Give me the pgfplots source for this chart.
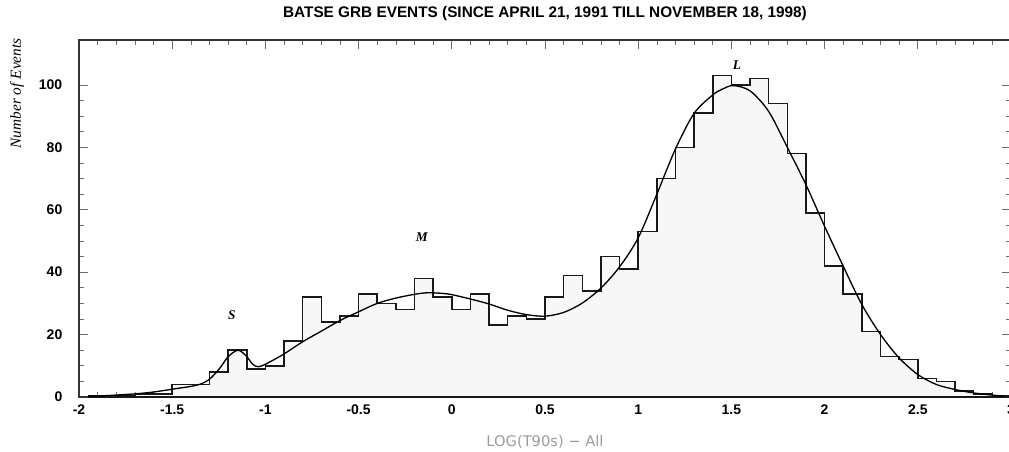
\documentclass[border=0pt]{standalone}
\usepackage{pgfplots}
\pgfplotsset{compat=1.18}
\usepackage{fontspec}
\setmainfont{Liberation Sans}
\newfontfamily\timesfont{Liberation Serif}
\newfontfamily\dejavu{DejaVu Sans}
\definecolor{histfill}{RGB}{247,247,247}
\definecolor{tickgray}{RGB}{110,110,110}
\definecolor{labelgray}{RGB}{155,155,155}
\begin{document}
\begin{tikzpicture}
\begin{axis}[
  name=ax,
  scale only axis,
  width=699pt, height=267.75pt,
  xmin=-2, xmax=3, ymin=0, ymax=114.4,
  xtick={-2,-1.5,-1,-0.5,0,0.5,1,1.5,2,2.5,3},
  xticklabels={-2,-1.5,-1,-0.5,0,0.5,1,1.5,2,2.5,3},
  minor x tick num=4,
  ytick={0,20,40,60,80,100},
  yticklabels={0,20,40,60,80,100},
  minor y tick num=3,
  tick align=inside,
  major tick length=6.75pt, minor tick length=3.4pt,
  every tick/.style={tickgray, line width=0.5pt},
  axis line style={line width=1.1pt, black!80},
  tick label style={font=\fontsize{10.5}{12}\selectfont\bfseries},
  xticklabel style={yshift=-2pt},
  yticklabel style={xshift=-9pt},
  clip=false,
]
\addplot[const plot, fill=histfill, draw=black!90, line width=1.15pt] coordinates {
(-1.95,0.3) (-1.7,1) (-1.5,4) (-1.3,8) (-1.2,15) (-1.1,9) (-1.0,10) (-0.9,18)
(-0.8,32) (-0.7,24) (-0.6,26) (-0.5,33) (-0.4,30) (-0.3,28) (-0.2,38) (-0.1,32)
(0.0,28) (0.1,33) (0.2,23) (0.3,26) (0.4,25) (0.5,32) (0.6,39) (0.7,34)
(0.8,45) (0.9,41) (1.0,53) (1.1,70) (1.2,80) (1.3,91) (1.4,103) (1.5,100)
(1.6,102) (1.7,94) (1.8,78) (1.9,59) (2.0,42) (2.1,33) (2.2,21) (2.3,13)
(2.4,12) (2.5,6) (2.6,5) (2.7,2) (2.8,1) (2.9,0.5) (3.0,0.5)
} \closedcycle;
\addplot[smooth, draw=black, line width=1pt, mark=none] coordinates {
(-1.95,0.2) (-1.85,0.45) (-1.7,1.0) (-1.6,1.6) (-1.5,2.5) (-1.4,3.4) (-1.35,4.1)
(-1.3,5.7) (-1.245,9.2) (-1.2,12.9) (-1.147,15.0) (-1.102,13.1) (-1.07,10.6)
(-1.04,9.7) (-1.0,10.5) (-0.9,13.8) (-0.8,17.7) (-0.7,21.1) (-0.6,24.5)
(-0.5,27.3) (-0.4,30.0) (-0.3,31.7) (-0.2,32.9) (-0.13,33.4) (-0.05,33.2)
(0.0,32.8) (0.1,31.4) (0.2,29.8) (0.3,27.8) (0.4,26.4) (0.5,25.9) (0.6,27.1)
(0.7,30.1) (0.8,34.9) (0.9,41.7) (1.0,51.0) (1.1,65.0) (1.2,79.5) (1.3,90.9)
(1.4,96.8) (1.45,98.6) (1.51,99.8) (1.6,98.1) (1.7,91.5) (1.8,80.0) (1.9,68.0)
(2.0,54.7) (2.1,41.9) (2.2,29.6) (2.3,20.0) (2.4,12.5) (2.5,7.2) (2.6,4.0)
(2.7,2.4) (2.8,1.3) (2.9,0.6) (2.96,0.3)
};
\node[font=\timesfont\bfseries\itshape\fontsize{10}{11}\selectfont] at (axis cs:-1.18,26.3) {S};
\node[font=\timesfont\bfseries\itshape\fontsize{10}{11}\selectfont] at (axis cs:-0.161,51.3) {M};
\node[font=\timesfont\bfseries\itshape\fontsize{10}{11}\selectfont] at (axis cs:1.53,106.4) {L};
\end{axis}
\node[font=\fontsize{11.5}{13}\selectfont\bfseries] at ([yshift=19.5pt]ax.north) {BATSE GRB EVENTS (SINCE APRIL 21, 1991 TILL NOVEMBER 18, 1998)};
\node[rotate=90, font=\timesfont\itshape\fontsize{11.5}{13}\selectfont] at ([xshift=-46.5pt,yshift=-40pt]ax.north west) {Number of Events};
\node[font=\dejavu\fontsize{11}{13}\selectfont, text=labelgray] at ([yshift=-33.75pt]ax.south) {LOG(T90s) − All};
\pgfresetboundingbox
\path[use as bounding box] ([xshift=-59.25pt,yshift=-41.25pt]ax.south west) rectangle ([xshift=-1.5pt,yshift=30pt]ax.north east);
\end{tikzpicture}
\end{document}
